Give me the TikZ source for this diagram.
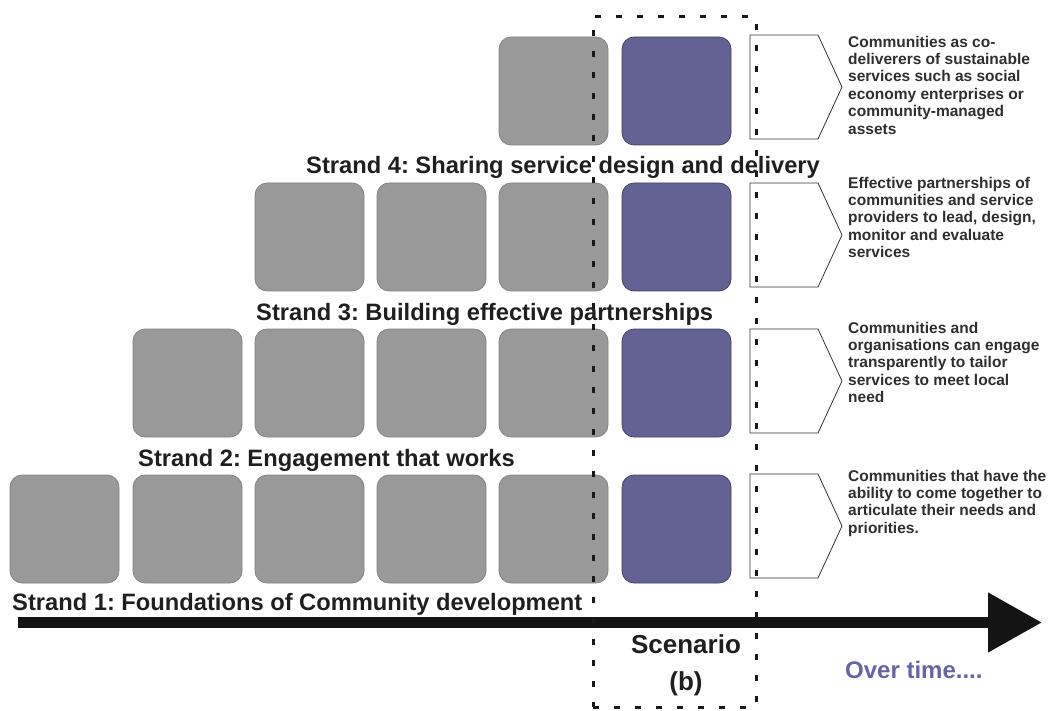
\documentclass[tikz,border=0pt]{standalone}
\usepackage{fontspec}
\setmainfont{Liberation Sans}
\usetikzlibrary{arrows.meta}
\definecolor{boxgray}{RGB}{153,153,153}
\definecolor{boxblue}{RGB}{98,98,148}
\definecolor{overtime}{RGB}{100,100,168}
\begin{document}
\frenchspacing
\begin{tikzpicture}[x=1pt,y=-1pt,
  tile/.style={rounded corners=12pt, minimum width=109pt, minimum height=108pt, inner sep=0pt, line width=0.7pt},
  gtile/.style={tile, fill=boxgray, draw=black!50},
  btile/.style={tile, fill=boxblue, draw=boxblue!65!black},
  chev/.style={draw=black!80, line width=0.8pt, fill=white},
  strand/.style={anchor=base west, inner sep=0pt, font=\fontsize{23.7}{28}\selectfont\bfseries, text=black!88},
  desc/.style={anchor=north west, inner sep=0pt, align=left, font=\fontsize{15.5}{17.4}\selectfont\bfseries, text=black!82},
  scen/.style={draw=black!90, line width=3pt, dash pattern=on 6pt off 15pt, minimum width=163pt, minimum height=690pt, inner sep=0pt}
]
\useasboundingbox (0,0) rectangle (1052,711);

% row 1 (bottom)
\foreach \x [count=\i] in {64.5,187.5,309.5,431.5,553.5}
  \node[gtile] (r1g\i) at (\x,529) {};
\node[btile] (r1b) at (676.5,529) {};
% row 2
\foreach \x [count=\i] in {187.5,309.5,431.5,553.5}
  \node[gtile] (r2g\i) at (\x,383) {};
\node[btile] (r2b) at (676.5,383) {};
% row 3
\foreach \x [count=\i] in {309.5,431.5,553.5}
  \node[gtile] (r3g\i) at (\x,237) {};
\node[btile] (r3b) at (676.5,237) {};
% row 4
\node[gtile] (r4g1) at (553.5,91) {};
\node[btile] (r4b) at (676.5,91) {};

% chevrons
\foreach \t in {35,183,329,474}
  \draw[chev] (750,\t) -- (818,\t) -- (842,\t+52) -- (818,\t+104) -- (750,\t+104) -- cycle;

% descriptions
\node[desc] (d4) at (848,35.7) {Communities as co-\\deliverers of sustainable\\services such as social\\economy enterprises or\\community-managed\\assets};
\node[desc] (d3) at (848,176.7) {Effective partnerships of\\communities and service\\providers to lead, design,\\monitor and evaluate\\services};
\node[desc] (d2) at (848,321.7) {Communities and\\organisations can engage\\transparently to tailor\\services to meet local\\need};
\node[desc] (d1) at (848,469.7) {Communities that have the\\ability to come together to\\articulate their needs and\\priorities.};

% strand labels
\node[strand] (s4) at (306,174) {Strand 4: Sharing service design and delivery};
\node[strand] (s3) at (256,320) {Strand 3: Building effective partnerships};
\node[strand] (s2) at (138,466) {Strand 2: Engagement that works};
\node[strand] (s1) at (12,610) {Strand 1: Foundations of Community development};

% time arrow
\coordinate (ts) at (18,622.5);
\coordinate (te) at (1042,622.5);
\draw[line width=11pt, black!92, -{Triangle[length=54pt,width=57pt]}] (ts) -- (te);

% scenario labels
\node[anchor=base, inner sep=0pt, font=\fontsize{26}{30}\selectfont\bfseries, text=black!88] (sc) at (686,653) {Scenario};
\node[anchor=base, inner sep=0pt, font=\fontsize{26}{30}\selectfont\bfseries, text=black!88] (sb) at (686,690) {(b)};
\node[anchor=base west, inner sep=0pt, font=\fontsize{24}{29}\selectfont\bfseries, text=overtime] (ot) at (845,678) {Over time....};

% scenario dashed frame
\node[scen] (frame) at (674.5,362) {};
\end{tikzpicture}
\end{document}
